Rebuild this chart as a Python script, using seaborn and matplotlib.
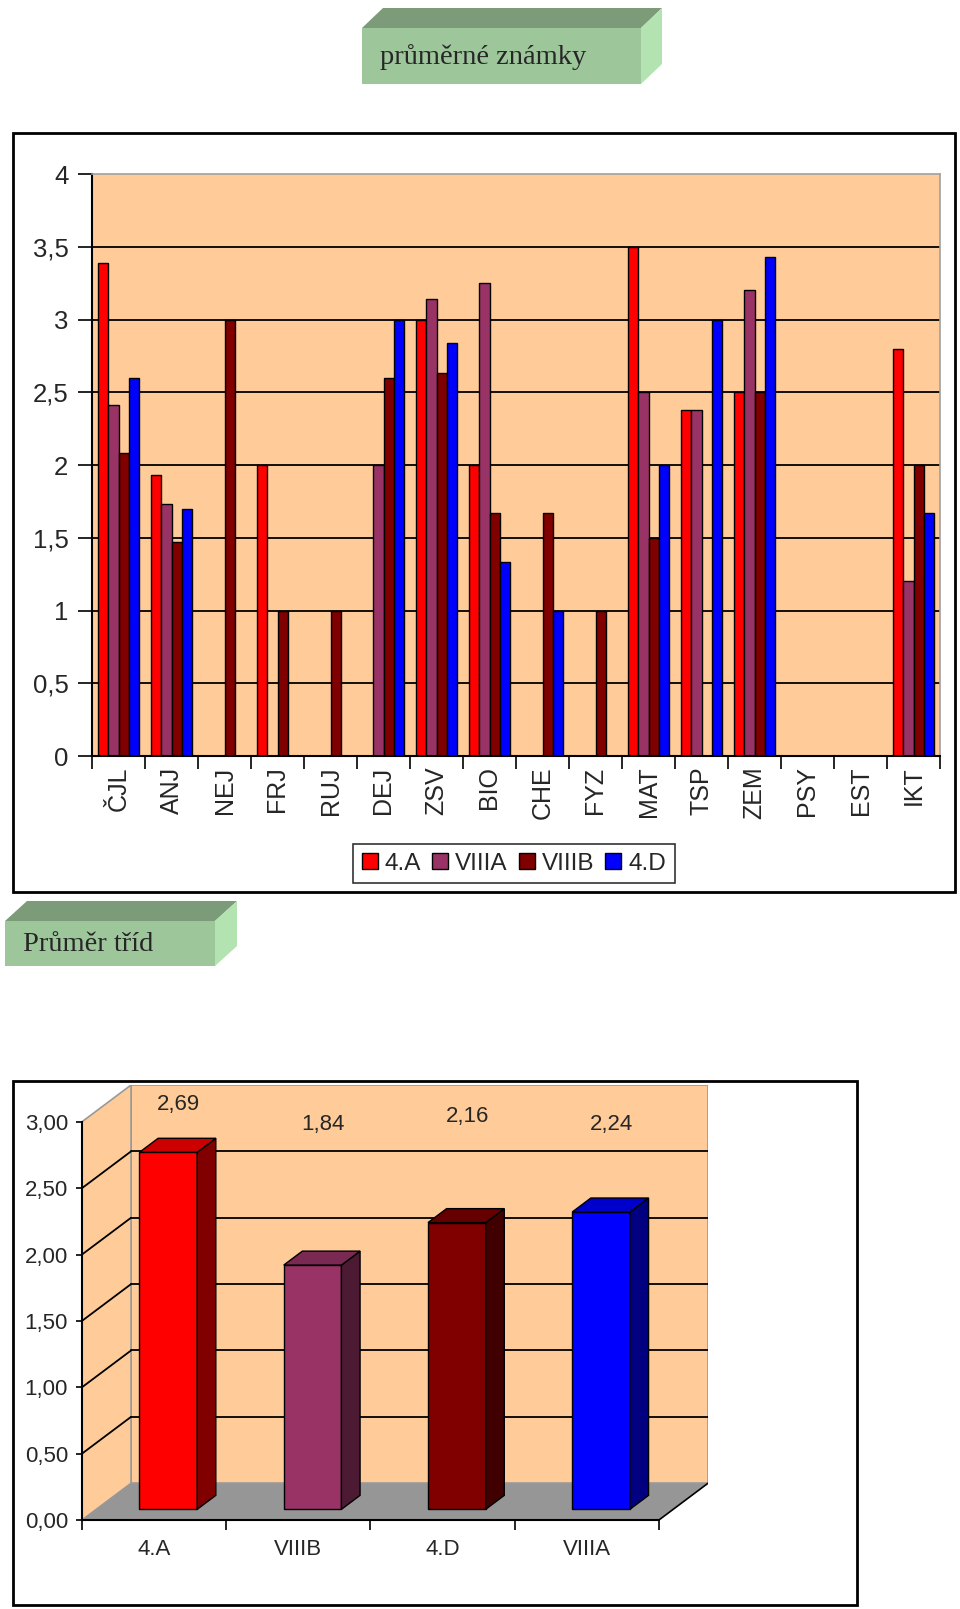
import numpy as np
import pandas as pd
import matplotlib
matplotlib.use("Agg")
import matplotlib.pyplot as plt
import matplotlib.transforms as mtransforms
from matplotlib.patches import Rectangle, Polygon, Patch
from matplotlib.ticker import FuncFormatter
import seaborn as sns

# 1. Data - prumerne znamky podle predmetu
predmety = ['ČJL', 'ANJ', 'NEJ', 'FRJ', 'RUJ', 'DEJ', 'ZSV', 'BIO',
            'CHE', 'FYZ', 'MAT', 'TSP', 'ZEM', 'PSY', 'EST', 'IKT']
tridy = ['4.A', 'VIIIA', 'VIIIB', '4.D']
znamky_4A = [3.39, 1.93, 0, 2.0, 0, 0, 3.0, 2.0, 0, 0, 3.5, 2.38, 2.5, 0, 0, 2.8]
znamky_VIIIA = [2.41, 1.73, 0, 0, 0, 2.0, 3.14, 3.25, 0, 0, 2.5, 2.38, 3.2, 0, 0, 1.2]
znamky_VIIIB = [2.08, 1.47, 3.0, 1.0, 1.0, 2.6, 2.63, 1.67, 1.67, 1.0, 1.5, 0, 2.5, 0, 0, 2.0]
znamky_4D = [2.6, 1.7, 0, 0, 0, 3.0, 2.84, 1.33, 1.0, 0, 2.0, 3.0, 3.43, 0, 0, 1.67]

# prumer trid
tridy_prumer = ['4.A', 'VIIIB', '4.D', 'VIIIA']
prumery = [2.69, 1.84, 2.16, 2.24]

df = pd.DataFrame({
    'predmet': predmety * 4,
    'trida': np.repeat(tridy, len(predmety)),
    'znamka': znamky_4A + znamky_VIIIA + znamky_VIIIB + znamky_4D,
})

# 2. Styl
sns.set_style('white')
plt.rcParams['font.family'] = ['Liberation Sans', 'DejaVu Sans']
peach = '#FFCC99'
barvy = ['#FF0000', '#993366', '#800000', '#0000FF']
barvy_bok = ['#800000', '#4D1A33', '#400000', '#000080']
barvy_vrch = ['#CC0000', '#7A2952', '#660000', '#0000CC']

W, H = 960, 1609
fig = plt.figure(figsize=(W / 100, H / 100), dpi=100)


def rect(l, t, r, b):
    return [l / W, 1 - b / H, (r - l) / W, (b - t) / H]


# pozadi: ramecky a zelene titulky
bg = fig.add_axes([0, 0, 1, 1], zorder=-5)
bg.set_xlim(0, W)
bg.set_ylim(H, 0)
bg.axis('off')
bg.add_patch(Rectangle((13, 133), 942, 759, fill=False, ec='black', lw=2))
bg.add_patch(Rectangle((13, 1081), 844, 524, fill=False, ec='black', lw=2))


def titulek(x0, y0, x1, y1, dx, dy, text):
    bg.add_patch(Polygon([(x0, y0), (x0 + dx, y0 - dy), (x1 + dx, y0 - dy), (x1, y0)],
                         fc='#7B9B79', ec='none'))
    bg.add_patch(Polygon([(x1, y0), (x1 + dx, y0 - dy), (x1 + dx, y1 - dy), (x1, y1)],
                         fc='#B3E3B0', ec='none'))
    bg.add_patch(Rectangle((x0, y0), x1 - x0, y1 - y0, fc='#9DC69B', ec='none'))
    bg.text(x0 + 18, (y0 + y1) / 2 + 1, text, ha='left', va='center', fontsize=20.5,
            family=['Liberation Serif', 'DejaVu Serif'])


titulek(362, 28, 641, 84, 21, 20, 'průměrné známky')
titulek(5, 921, 215, 966, 22, 20, 'Průměr tříd')

# 3. Horni graf
ax1 = fig.add_axes(rect(92, 174, 940, 756))
sns.barplot(data=df, x='predmet', y='znamka', hue='trida', hue_order=tridy,
            palette=barvy, saturation=1, width=0.76, edgecolor='black',
            linewidth=1, errorbar=None, legend=False, ax=ax1)
ax1.set_facecolor(peach)
ax1.set_ylim(0, 4)
ax1.set_xlim(-0.5, len(predmety) - 0.5)
ax1.set_yticks(np.arange(0, 4.01, 0.5))
ax1.yaxis.set_major_formatter(FuncFormatter(lambda v, p: f"{v:g}".replace('.', ',')))
ax1.yaxis.grid(True, color='black', lw=1.3)
ax1.get_ygridlines()[-1].set_visible(False)
ax1.set_axisbelow(True)
ax1.set_xticks(np.arange(len(predmety) + 1) - 0.5, labels=[])
ax1.set_xticks(range(len(predmety)), labels=predmety, minor=True)
ax1.tick_params(axis='x', which='major', direction='out', length=9, width=1.2,
                color='black', bottom=True)
ax1.tick_params(axis='x', which='minor', length=0, pad=7.5, labelsize=18,
                labelrotation=90, bottom=True)
ax1.tick_params(axis='y', direction='out', length=10, width=1.2, color='black',
                left=True, pad=7, labelsize=18.5)
for lab in ax1.get_xticklabels(minor=True):
    lab.set_va('top')
ax1.set_xlabel('')
ax1.set_ylabel('')
for s in ['top', 'right']:
    ax1.spines[s].set_color('#A0A0A0')
    ax1.spines[s].set_linewidth(1.2)
for s in ['left', 'bottom']:
    ax1.spines[s].set_color('black')
    ax1.spines[s].set_linewidth(1.5)

handles = [Patch(fc=c, ec='black') for c in barvy]
leg = fig.legend(handles, tridy, loc='center', bbox_to_anchor=(514 / W, 1 - 863.5 / H),
                 ncol=4, frameon=True, fancybox=False, edgecolor='black', fontsize=17.5,
                 handlelength=0.65, handleheight=0.65, handletextpad=0.3,
                 columnspacing=0.45, borderpad=0.35)
leg.get_frame().set_linewidth(1.2)

# 4. Dolni graf - 3D sloupce
ax2 = fig.add_axes(rect(82, 1085, 708, 1520))
ax2.set_facecolor('none')
DX, DY = 0.34, 0.277   # hloubka sten
F0, HL = 0.29, 0.38    # poloha a hloubka sloupcu
sns.barplot(x=tridy_prumer, y=prumery, hue=tridy_prumer, palette=barvy,
            saturation=1, width=0.4, edgecolor='black', linewidth=1,
            errorbar=None, legend=False, ax=ax2)

posun = mtransforms.Affine2D().translate(F0 * DX, F0 * DY) + ax2.transData
bars = [b for c in ax2.containers for b in c]
for i, bar in enumerate(bars):
    x0, w, h = bar.get_x(), bar.get_width(), bar.get_height()
    bdx, bdy = HL * DX, HL * DY
    bar.set_transform(posun)
    bar.set_zorder(3)
    ax2.add_patch(Polygon([(x0 + w, 0), (x0 + w + bdx, bdy), (x0 + w + bdx, h + bdy), (x0 + w, h)],
                          fc=barvy_bok[i], ec='black', lw=1, transform=posun, zorder=3))
    ax2.add_patch(Polygon([(x0, h), (x0 + w, h), (x0 + w + bdx, h + bdy), (x0 + bdx, h + bdy)],
                          fc=barvy_vrch[i], ec='black', lw=1, transform=posun, zorder=3))

n = len(tridy_prumer)
# steny a podlaha
ax2.add_patch(Rectangle((-0.5 + DX, DY), n, 3.0, fc=peach, ec='#999999', lw=1.2, zorder=0.2))
ax2.add_patch(Polygon([(-0.5, 0), (-0.5 + DX, DY), (-0.5 + DX, 3 + DY), (-0.5, 3)],
                      fc=peach, ec='#999999', lw=1.2, zorder=0.2))
ax2.add_patch(Polygon([(-0.5, 0), (n - 0.5, 0), (n - 0.5 + DX, DY), (-0.5 + DX, DY)],
                      fc='#969696', ec='none', zorder=0.3))
ax2.plot([n - 0.5, n - 0.5 + DX], [0, DY], color='black', lw=1.2, zorder=0.4)
for v in np.arange(0.5, 2.51, 0.5):
    ax2.plot([-0.5 + DX, n - 0.5 + DX], [v + DY, v + DY], color='black', lw=1.3, zorder=0.4)
    ax2.plot([-0.5, -0.5 + DX], [v, v + DY], color='black', lw=1.3, zorder=0.4)

popisek_y = [3.13, 2.98, 3.04, 2.98]
for i, (v, ly) in enumerate(zip(prumery, popisek_y)):
    ax2.text(i + 0.17, ly, f"{v:.2f}".replace('.', ','), ha='center', va='center', fontsize=16)

ax2.set_xlim(-0.5, n - 0.5 + DX)
ax2.set_ylim(0, 3 + DY)
ax2.set_yticks(np.arange(0, 3.01, 0.5))
ax2.yaxis.set_major_formatter(FuncFormatter(lambda v, p: f"{v:.2f}".replace('.', ',')))
ax2.set_xticks(np.arange(n + 1) - 0.5, labels=[])
ax2.set_xticks(range(n), labels=tridy_prumer, minor=True)
ax2.tick_params(axis='x', which='major', direction='out', length=7, width=1.2,
                color='black', bottom=True)
ax2.tick_params(axis='x', which='minor', length=0, pad=14, labelsize=16, bottom=True)
ax2.tick_params(axis='y', direction='out', length=4, width=1.2, color='black',
                left=True, pad=6, labelsize=16)
ax2.set_xlabel('')
ax2.set_ylabel('')
ax2.grid(False)
for s in ['top', 'right']:
    ax2.spines[s].set_visible(False)
ax2.spines['left'].set_bounds(0, 3)
ax2.spines['bottom'].set_bounds(-0.5, n - 0.5)
for s in ['left', 'bottom']:
    ax2.spines[s].set_color('black')
    ax2.spines[s].set_linewidth(1.5)

plt.savefig('out.png', dpi=100)
